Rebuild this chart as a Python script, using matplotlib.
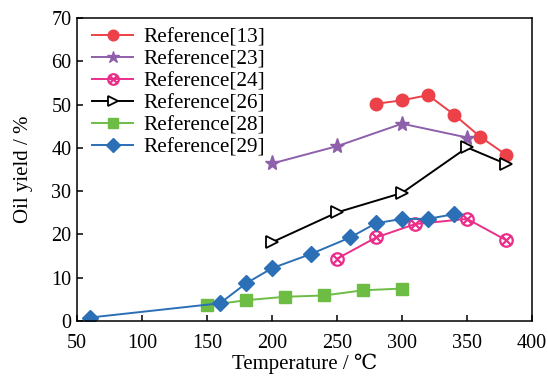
import matplotlib
matplotlib.use("Agg")
import matplotlib.pyplot as plt
from matplotlib.path import Path

# data
t13 = [280, 300, 320, 340, 360, 380]
y13 = [50.2, 51.0, 52.2, 47.7, 42.6, 38.4]
t23 = [200, 250, 300, 350]
y23 = [36.4, 40.4, 45.6, 42.4]
t24 = [250, 280, 310, 350, 380]
y24 = [14.4, 19.3, 22.4, 23.6, 18.7]
t26 = [200, 250, 300, 350, 380]
y26 = [18.2, 25.1, 29.6, 40.1, 36.3]
t28 = [150, 180, 210, 240, 270, 300]
y28 = [3.6, 4.8, 5.6, 5.9, 7.1, 7.5]
t29 = [60, 160, 180, 200, 230, 260, 280, 300, 320, 340]
y29 = [0.8, 4.1, 8.7, 12.2, 15.5, 19.3, 22.6, 23.6, 23.6, 24.7]

labels = ['Reference[13]', 'Reference[23]', 'Reference[24]',
          'Reference[26]', 'Reference[28]', 'Reference[29]']

plt.rcParams['font.family'] = ['Liberation Serif', 'DejaVu Serif']

# crossed circle marker (circle with an X inside)
d = 0.7071
cross = Path([(-d, -d), (d, d), (-d, d), (d, -d)],
             [Path.MOVETO, Path.LINETO, Path.MOVETO, Path.LINETO])
otimes = Path.make_compound_path(Path.unit_circle(), cross)

fig = plt.figure(figsize=(5.48, 3.77), dpi=100)
ax = fig.add_axes([0.1405, 0.1485, 0.8305, 0.8035])

lw = 1.4
ax.plot(t13, y13, '-o', color='#ec4149', lw=lw, ms=9, label=labels[0])
ax.plot(t23, y23, '-*', color='#8e5fab', lw=lw, ms=11, label=labels[1])
ax.plot(t24, y24, '-', marker=otimes, color='#ea2f8a', lw=lw, ms=9,
        mfc='none', mew=1.6, label=labels[2])
ax.plot(t26, y26, '-', marker='>', color='black', lw=lw, ms=9,
        mfc='white', mew=1.3, label=labels[3])
ax.plot(t28, y28, '-s', color='#6dbd45', lw=lw, ms=8, label=labels[4])
ax.plot(t29, y29, '-D', color='#2b6fb6', lw=lw, ms=8, label=labels[5])

ax.set_xlim(50, 400)
ax.set_ylim(0, 70)
ax.set_xticks(range(50, 401, 50))
ax.set_yticks(range(0, 71, 10))
ax.tick_params(direction='in', labelsize=14.5, length=4, width=1.1)
ax.tick_params(axis='x', pad=9)
ax.tick_params(axis='y', pad=4)
for s in ax.spines.values():
    s.set_linewidth(1.1)

ax.set_xlabel('Temperature / ℃', fontsize=15, labelpad=1)
ax.set_ylabel('Oil yield / %', fontsize=15, labelpad=13)

ax.legend(loc='upper left', frameon=False, fontsize=15.3, handlelength=1.95,
          handletextpad=0.45, labelspacing=0.1, borderaxespad=0.05,
          markerscale=0.85, bbox_to_anchor=(0.012, 1.0))

fig.savefig('out.png', dpi=100)
